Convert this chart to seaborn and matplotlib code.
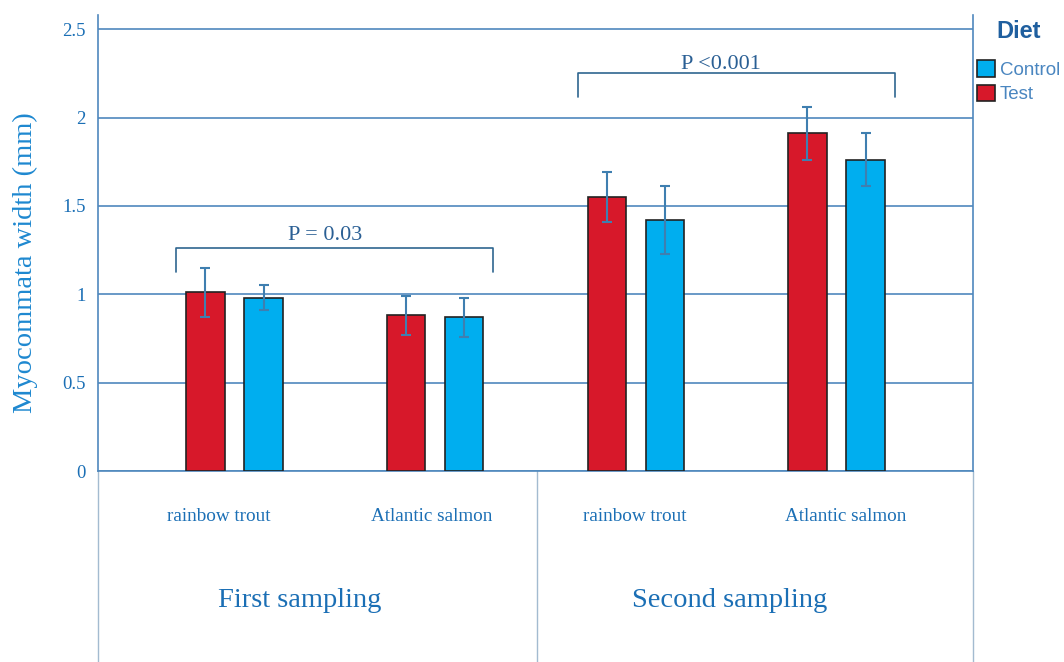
import pandas as pd
import matplotlib.pyplot as plt
import seaborn as sns

species = ["rainbow trout", "Atlantic salmon", "rainbow trout", "Atlantic salmon"]
samplings = ["First sampling", "First sampling", "Second sampling", "Second sampling"]
diets = ["Test", "Control"]
test_mean = [1.01, 0.88, 1.55, 1.91]
test_err = [0.14, 0.11, 0.14, 0.15]
control_mean = [0.98, 0.87, 1.42, 1.76]
control_err = [0.07, 0.11, 0.19, 0.15]
p_labels = ["P = 0.03", "P <0.001"]

sns.set_style("white")
plt.rcParams["font.family"] = ["Liberation Serif", "DejaVu Serif"]

grid_col = "#4f88bd"
text_col = "#1b6fb5"
red = "#d7182a"
blue = "#00aeef"

keys = [f"{s}|{sp}" for s, sp in zip(samplings, species)]
df = pd.DataFrame({
    "key": keys * 2,
    "diet": ["Test"] * 4 + ["Control"] * 4,
    "width": test_mean + control_mean,
})

fig = plt.figure(figsize=(10.64, 6.62), dpi=100)
ax = fig.add_axes([98 / 1064, 1 - 471 / 662, 875 / 1064, 456 / 662])

sns.barplot(data=df, x="key", y="width", hue="diet", order=keys, hue_order=diets,
            palette={"Test": red, "Control": blue}, saturation=1, width=0.58, gap=0.34,
            edgecolor="#222222", linewidth=1.2, errorbar=None, ax=ax, zorder=3)

# error bars on top of each bar
for cont, errs in zip(ax.containers, [test_err, control_err]):
    for bar, e in zip(cont, errs):
        cx = bar.get_x() + bar.get_width() / 2
        ax.errorbar(cx, bar.get_height(), yerr=e, color="#3f7fb0", lw=1.5,
                    capsize=3.5, capthick=1.5, zorder=4)

ax.set_xlim(-0.68, 3.68)
ax.set_ylim(0, 2.58)
ax.set_yticks([0, 0.5, 1, 1.5, 2, 2.5])
ax.set_yticklabels(["0", "0.5", "1", "1.5", "2", "2.5"])
ax.tick_params(axis="y", length=0, pad=9, labelsize=13.5, labelcolor=text_col)
ax.set_xticks([])
ax.set_xlabel("")
ax.set_ylabel("Myocommata width (mm)", fontsize=20.5, color="#1e88d0")
ax.yaxis.set_label_coords(-0.068, 0.456)
ax.yaxis.grid(True, color=grid_col, lw=1.2)
ax.set_axisbelow(True)
ax.spines["top"].set_visible(False)
for sp in ax.spines.values():
    sp.set_color(grid_col)
    sp.set_linewidth(1.2)

# table lines below the axis
trans = ax.transAxes
for xa in [0, 0.5017, 1]:
    ax.plot([xa, xa], [0, -0.42], transform=trans, color="#a3bbd0", lw=1.0, clip_on=False)

# category labels
label_x = [0.138, 0.381, 0.613, 0.855]
for xa, sp in zip(label_x, species):
    ax.text(xa, -0.099, sp, transform=trans, ha="center", va="center",
            fontsize=13.8, color=text_col)
ax.text(0.231, -0.283, "First sampling", transform=trans, ha="center", va="center",
        fontsize=20.5, color=text_col)
ax.text(0.722, -0.283, "Second sampling", transform=trans, ha="center", va="center",
        fontsize=20.5, color=text_col)

# significance brackets
test_bars, ctrl_bars = ax.containers[0], ax.containers[1]
brackets = [(0, 1, 1.126, 1.261, 1.335, -0.05), (2, 3, 2.115, 2.251, 2.302, -0.075)]
for (a, b, ylo, yhi, ytxt, dx), lab in zip(brackets, p_labels):
    x0 = test_bars[a].get_x() - 0.05
    x1 = ctrl_bars[b].get_x() + ctrl_bars[b].get_width() + 0.05
    ax.plot([x0, x0, x1, x1], [ylo, yhi, yhi, ylo], color="#2f6690", lw=1.2, zorder=5)
    ax.text((x0 + x1) / 2 + dx, ytxt, lab, ha="center", va="center", fontsize=16,
            color="#2a5f94")

# legend outside to the right
handles, labels = ax.get_legend_handles_labels()
ax.get_legend().remove()
order = [labels.index("Control"), labels.index("Test")]
leg = fig.legend([handles[i] for i in order], [labels[i] for i in order],
                 loc="upper left", bbox_to_anchor=(969 / 1064, 1 - 13 / 662),
                 frameon=False, handlelength=1.0, handleheight=1.0, handletextpad=0.25,
                 labelspacing=0.3, borderaxespad=0,
                 prop={"family": "Liberation Sans", "size": 13.5})
leg.set_title("Diet", prop={"family": "Liberation Sans", "size": 17, "weight": "bold"})
leg.get_title().set_color("#1f5f9f")
leg._legend_box.sep = 12
for t in leg.get_texts():
    t.set_color("#4a86c0")

fig.savefig("out.png", dpi=100)
